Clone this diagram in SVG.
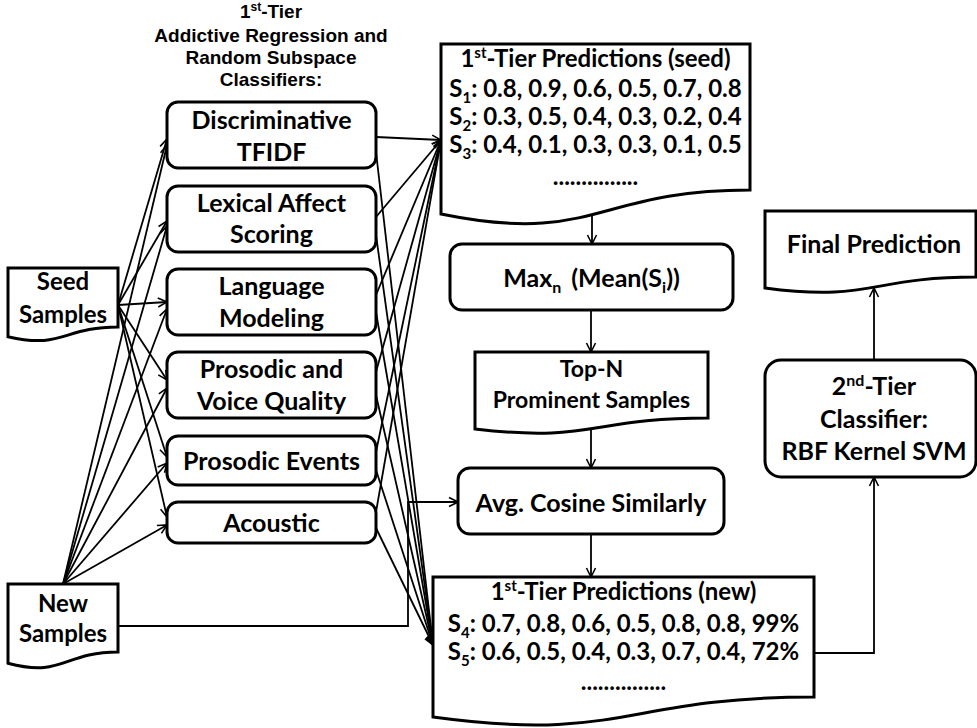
<svg xmlns="http://www.w3.org/2000/svg" width="977" height="728" viewBox="0 0 977 728">
<defs>
<marker id="arr" viewBox="0 0 12 12" refX="11" refY="6" markerWidth="12" markerHeight="12" markerUnits="userSpaceOnUse" orient="auto">
<path d="M2,1.5 L11,6 L2,10.5" fill="none" stroke="#000" stroke-width="1.6"/>
</marker>
<style>
.box{fill:#fff;stroke:#000;stroke-width:3}
.t{font-family:Lato,"Open Sans",sans-serif;font-weight:700;fill:#000;text-anchor:middle}
.b{font-size:25px}
.d{font-size:24px}
.h{font-family:"Liberation Sans",Arial,sans-serif;font-weight:700;font-size:19px;text-anchor:middle;fill:#000}
.c{fill:none;stroke:#000;stroke-width:1.8}
.a{marker-end:url(#arr)}
</style>
</defs>
<rect width="977" height="728" fill="#fff"/>

<g id="heading">
<text class="h" x="271" y="18">1<tspan font-size="12" dy="-7">st</tspan><tspan dy="7">-Tier</tspan></text>
<text class="h" x="271" y="42">Addictive Regression and</text>
<text class="h" x="271" y="64">Random Subspace</text>
<text class="h" x="271" y="86">Classifiers:</text>
</g>

<g id="connectors">
<!-- seed fan -->
<line class="c a" x1="118" y1="305" x2="167" y2="139"/>
<line class="c a" x1="118" y1="305" x2="167" y2="221"/>
<line class="c a" x1="118" y1="305" x2="167" y2="302"/>
<line class="c a" x1="118" y1="305" x2="167" y2="380"/>
<line class="c a" x1="118" y1="305" x2="167" y2="457"/>
<line class="c a" x1="118" y1="305" x2="167" y2="517"/>
<!-- new fan -->
<line class="c a" x1="63" y1="584" x2="167" y2="145"/>
<line class="c a" x1="63" y1="584" x2="167" y2="226"/>
<line class="c a" x1="63" y1="584" x2="167" y2="309"/>
<line class="c a" x1="63" y1="584" x2="167" y2="388"/>
<line class="c a" x1="63" y1="584" x2="167" y2="463"/>
<line class="c a" x1="63" y1="584" x2="167" y2="525"/>
<!-- to top predictions -->
<line class="c a" x1="376" y1="137" x2="441" y2="140"/>
<line class="c a" x1="376" y1="217" x2="441" y2="140"/>
<line class="c a" x1="376" y1="295" x2="441" y2="140"/>
<line class="c a" x1="376" y1="372" x2="441" y2="140"/>
<line class="c a" x1="376" y1="452" x2="441" y2="140"/>
<line class="c a" x1="376" y1="512" x2="441" y2="140"/>
<!-- to bottom predictions -->
<line class="c a" x1="376" y1="152" x2="433" y2="645"/>
<line class="c a" x1="376" y1="235" x2="433" y2="645"/>
<line class="c a" x1="376" y1="312" x2="433" y2="645"/>
<line class="c a" x1="376" y1="395" x2="433" y2="645"/>
<line class="c a" x1="376" y1="470" x2="433" y2="645"/>
<line class="c a" x1="376" y1="528" x2="433" y2="645"/>
<!-- new samples to avg cosine -->
<path class="c a" d="M118,626 H408 V502 H458"/>
<!-- vertical chain -->
<line class="c a" x1="592" y1="214" x2="592" y2="244"/>
<line class="c a" x1="591" y1="310" x2="591" y2="352"/>
<line class="c a" x1="591" y1="429" x2="591" y2="468"/>
<line class="c a" x1="591" y1="534" x2="591" y2="577"/>
<!-- to 2nd tier and final -->
<path class="c a" d="M814,653 H874 V477"/>
<line class="c a" x1="874" y1="360" x2="874" y2="288"/>
</g>

<g id="seed-samples">
<path class="box" d="M8,268 H118 V327 C63,327 63,349.5 8,336.7 Z"/>
<text class="t d" x="63" y="290">Seed</text>
<text class="t d" x="63" y="323">Samples</text>
</g>

<g id="new-samples">
<path class="box" d="M8,584 H118 V652 C63,652 63,677.9 8,663.2 Z"/>
<text class="t d" x="63" y="612">New</text>
<text class="t d" x="63" y="642">Samples</text>
</g>

<g id="discriminative-tfidf">
<rect class="box" x="167" y="102" width="209" height="66" rx="11"/>
<text class="t b" x="271.5" y="129">Discriminative</text>
<text class="t b" x="271.5" y="161">TFIDF</text>
</g>
<g id="lexical-affect">
<rect class="box" x="167" y="186" width="209" height="66" rx="11"/>
<text class="t b" x="271.5" y="212">Lexical Affect</text>
<text class="t b" x="271.5" y="243">Scoring</text>
</g>
<g id="language-modeling">
<rect class="box" x="167" y="269" width="209" height="66" rx="11"/>
<text class="t b" x="271.5" y="295">Language</text>
<text class="t b" x="271.5" y="327">Modeling</text>
</g>
<g id="prosodic-voice">
<rect class="box" x="167" y="352" width="209" height="66" rx="11"/>
<text class="t b" x="271.5" y="378">Prosodic and</text>
<text class="t b" x="271.5" y="410">Voice Quality</text>
</g>
<g id="prosodic-events">
<rect class="box" x="167" y="436" width="209" height="49" rx="11"/>
<text class="t b" x="271.5" y="470">Prosodic Events</text>
</g>
<g id="acoustic">
<rect class="box" x="167" y="502" width="209" height="41" rx="11"/>
<text class="t b" x="271.5" y="532">Acoustic</text>
</g>

<g id="predictions-seed">
<path class="box" d="M441,44 H750 V190 C595.5,190 595.5,245.6 441,214 Z"/>
<text class="t d" x="595.5" y="67">1<tspan font-size="15" dy="-9">st</tspan><tspan dy="9">-Tier Predictions (seed)</tspan></text>
<text class="t d" x="595.5" y="97">S<tspan font-size="15" dy="6">1</tspan><tspan dy="-6">: 0.8, 0.9, 0.6, 0.5, 0.7, 0.8</tspan></text>
<text class="t d" x="595.5" y="125">S<tspan font-size="15" dy="6">2</tspan><tspan dy="-6">: 0.3, 0.5, 0.4, 0.3, 0.2, 0.4</tspan></text>
<text class="t d" x="595.5" y="153">S<tspan font-size="15" dy="6">3</tspan><tspan dy="-6">: 0.4, 0.1, 0.3, 0.3, 0.1, 0.5</tspan></text>
<text class="t d" x="595.5" y="185">...............</text>
</g>

<g id="max-mean">
<rect class="box" x="450" y="244" width="283" height="66" rx="12"/>
<text class="t b" x="591.5" y="287">Max<tspan font-size="16" dy="6">n</tspan><tspan dx="10" dy="-6">(Mean(S</tspan><tspan font-size="16" dy="6">i</tspan><tspan dy="-6">))</tspan></text>
</g>

<g id="top-n">
<path class="box" d="M475,352 H708 V418 C591.5,418 591.5,443.1 475,428.9 Z"/>
<text class="t" font-size="23" x="591.5" y="377">Top-N</text>
<text class="t" font-size="23" x="591.5" y="408">Prominent Samples</text>
</g>

<g id="avg-cosine">
<rect class="box" x="458" y="468" width="266" height="66" rx="12"/>
<text class="t b" x="591" y="512">Avg. Cosine Similarly</text>
</g>

<g id="predictions-new">
<path class="box" d="M433,577 H814 V697 C623.5,697 623.5,743 433,717 Z"/>
<text class="t d" x="623.5" y="600">1<tspan font-size="15" dy="-9">st</tspan><tspan dy="9">-Tier Predictions (new)</tspan></text>
<text class="t d" x="623.5" y="632">S<tspan font-size="15" dy="6">4</tspan><tspan dy="-6">: 0.7, 0.8, 0.6, 0.5, 0.8, 0.8, 99%</tspan></text>
<text class="t d" x="623.5" y="660">S<tspan font-size="15" dy="6">5</tspan><tspan dy="-6">: 0.6, 0.5, 0.4, 0.3, 0.7, 0.4, 72%</tspan></text>
<text class="t d" x="623.5" y="690">...............</text>
</g>

<g id="second-tier">
<rect class="box" x="765" y="360" width="211" height="117" rx="16"/>
<text class="t b" x="874" y="395">2<tspan font-size="16" dy="-9">nd</tspan><tspan dy="9">-Tier</tspan></text>
<text class="t b" x="874" y="428">Classifier:</text>
<text class="t b" x="874" y="460">RBF Kernel SVM</text>
</g>

<g id="final-prediction">
<path class="box" d="M765,211 H976 V277 C870.5,277 870.5,302.3 765,288 Z"/>
<text class="t b" x="874" y="253">Final Prediction</text>
</g>
</svg>
